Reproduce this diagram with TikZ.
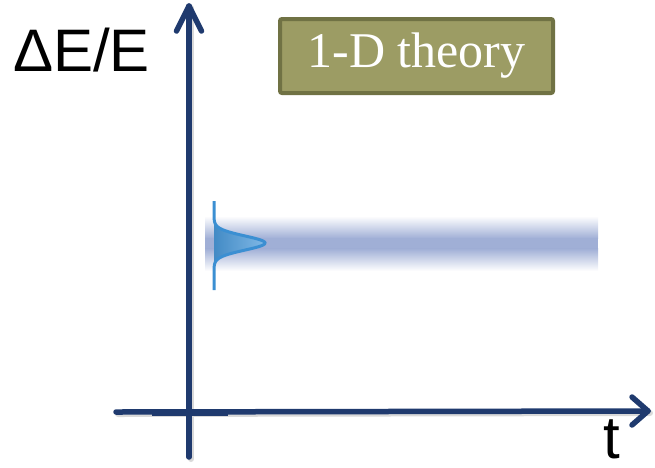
\documentclass[tikz,border=0pt]{standalone}
\usepackage{fontspec}
\usetikzlibrary{calc}
\setmainfont{Liberation Serif}
\setsansfont{Liberation Sans}
\definecolor{navy}{HTML}{1F3A6E}
\definecolor{bandblue}{HTML}{A0AFD6}
\definecolor{gaussline}{HTML}{3B8FD2}
\definecolor{gaussfill}{HTML}{4A9ADB}
\definecolor{olivefill}{HTML}{9C9C64}
\definecolor{oliveedge}{HTML}{707244}
\tikzset{
  axisline/.style={navy, line width=5.5pt, line cap=round, line join=round},
  axisshadow/.style={black!15, line width=6pt, line cap=round, line join=round},
  theorybox/.style={draw=oliveedge, fill=olivefill, line width=4pt, rounded corners=2pt,
    minimum width=273pt, minimum height=74pt, inner sep=0pt,
    text=white, font=\fontsize{50}{58}\selectfont},
  axislabel/.style={font=\sffamily\fontsize{60}{68}\selectfont, inner sep=0pt, text=black},
}
\begin{document}
\begin{tikzpicture}[x=1pt,y=-1pt]
\useasboundingbox (0,0) rectangle (655,467);
% coordinates
\coordinate (ybot) at (189,457);
\coordinate (ytip) at (189,6);
\coordinate (ya1) at (176.5,31);
\coordinate (ya2) at (201.5,31);
\coordinate (xleft) at (116,412);
\coordinate (xtip) at (648,411);
\coordinate (xa1) at (632,397);
\coordinate (xa2) at (632,425);
\coordinate (segl) at (152,412);
\coordinate (segr) at (228,412);
% band
\shade[top color=white, bottom color=bandblue] (205,216) rectangle (598,238.5);
\fill[bandblue] (205,238) rectangle (598,249);
\shade[top color=bandblue, bottom color=white] (205,248.5) rectangle (598,271);
% shadows
\draw[axisshadow] ($(ybot)+(2,2)$) -- ($(ytip)+(2,2)$);
\draw[axisshadow] ($(xleft)+(2,2)$) -- ($(xtip)+(2,2)$);
% axes
\draw[axisline] (ybot) -- (ytip);
\draw[axisline] (ya1) -- (ytip) -- (ya2);
\draw[axisline] (xleft) -- (xtip);
\draw[axisline] (xa1) -- (xtip) -- (xa2);
\draw[navy, line width=7pt] (segl) -- (segr);
% gaussian
\shade[left color=gaussfill!90!black, right color=gaussfill!70!white]
  plot[domain=205:281, samples=120] ({214+51*exp(-((\x-243)/10)^2)}, \x) -- cycle;
\draw[gaussline, line width=3pt]
  plot[domain=201:290, samples=150] ({214+51*exp(-((\x-243)/10)^2)}, \x);
% labels
\node[theorybox] (theory) at (416.5,56) {1-D theory};
\node[axislabel, anchor=base west] (ylabel) at (13,71) {ΔE/E};
\node[axislabel, anchor=base] (tlabel) at (612,458) {t};
\end{tikzpicture}
\end{document}
